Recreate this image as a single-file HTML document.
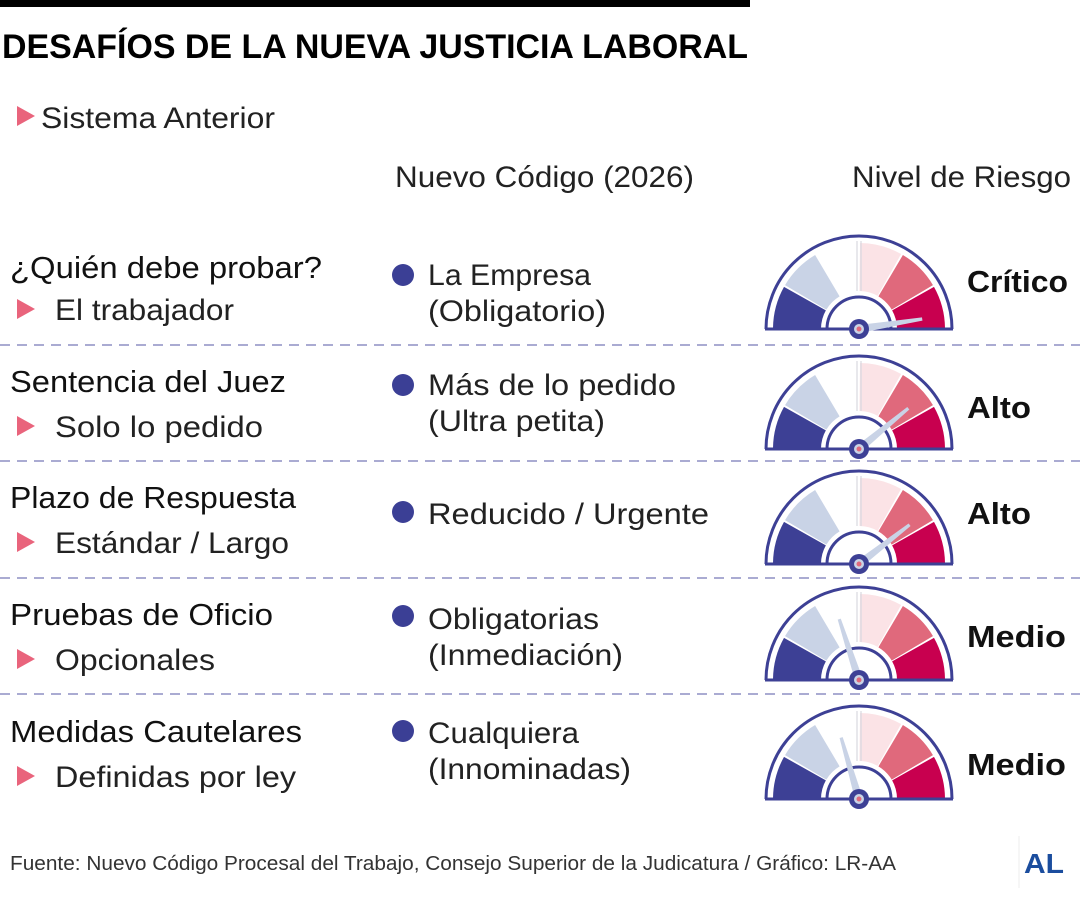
<!DOCTYPE html>
<html><head><meta charset="utf-8"><style>
html,body{margin:0;padding:0;background:#fff;width:1080px;height:900px;overflow:hidden}
svg{display:block;font-family:"Liberation Sans",sans-serif}
</style></head><body>
<svg id="chart" width="1080" height="900" viewBox="0 0 1080 900" xmlns="http://www.w3.org/2000/svg">
<rect x="0" y="0" width="750" height="7" fill="#000"/>
<text x="2" y="58" font-size="34" font-weight="bold" fill="#000" textLength="746" lengthAdjust="spacingAndGlyphs">DESAFÍOS DE LA NUEVA JUSTICIA LABORAL</text>
<polygon points="17,106 35,116 17,126" fill="#e9647c"/>
<text x="41" y="128" font-size="30" fill="#222" textLength="234" lengthAdjust="spacingAndGlyphs">Sistema Anterior</text>
<text x="395" y="187" font-size="30" fill="#222" textLength="299" lengthAdjust="spacingAndGlyphs">Nuevo Código (2026)</text>
<text x="852" y="187" font-size="30" fill="#222" textLength="219" lengthAdjust="spacingAndGlyphs">Nivel de Riesgo</text>
<g id="rows"></g>
<text x="10" y="870" font-size="20" fill="#333" textLength="886" lengthAdjust="spacingAndGlyphs">Fuente: Nuevo Código Procesal del Trabajo, Consejo Superior de la Judicatura / Gráfico: LR-AA</text>
<line x1="1019" y1="836" x2="1019" y2="888" stroke="#eee" stroke-width="1"/>
<text x="1024" y="873" font-size="28" font-weight="bold" fill="#1b4d9e" textLength="40" lengthAdjust="spacingAndGlyphs">AL</text>
</svg>
<script>
const questions = ["¿Quién debe probar?","Sentencia del Juez","Plazo de Respuesta","Pruebas de Oficio","Medidas Cautelares"];
const previous = ["El trabajador","Solo lo pedido","Estándar / Largo","Opcionales","Definidas por ley"];
const newLine1 = ["La Empresa","Más de lo pedido","Reducido / Urgente","Obligatorias","Cualquiera"];
const newLine2 = ["(Obligatorio)","(Ultra petita)","","(Inmediación)","(Innominadas)"];
const riskLabels = ["Crítico","Alto","Alto","Medio","Medio"];
const riskValues = [95, 78, 79, 40, 41];

const NS = "http://www.w3.org/2000/svg";
const g = document.getElementById('rows');
const qY = [278, 392, 508, 625, 742];
const pY = [320, 437, 553, 670, 787];
const dotYs = [275, 385, 512, 616, 731];
const n1Y = [285, 395, 524, 629, 743];
const n2Y = [321, 431, 0, 665, 779];
const rY = [292, 418, 524, 647, 775];
const sepY = [345, 461, 578, 694];
const gaugeCY = [329, 449, 564, 680, 799];
const qW = [312, 276, 286, 263, 292], pW = [179, 208, 234, 160, 241];
const n1W = [163, 248, 281, 171, 151], n2W = [178, 177, 0, 195, 203];
const rW = [101, 64, 64, 99, 99];
const GX = 859;
const colors = ["#3d4095","#c9d3e6",null,"#fbe3e6","#e0697c","#c8004f"];
function mk(tag, attrs, parent){const e=document.createElementNS(NS,tag);for(const k in attrs)e.setAttribute(k,attrs[k]);(parent||g).appendChild(e);return e;}
function angle(v){return Math.PI*(1 - v/100);}
function pt(cx,cy,r,a){return [cx + r*Math.cos(a), cy - r*Math.sin(a)];}
function sector(cx,cy,r0,r1,a0,a1){
  const p1=pt(cx,cy,r1,a0),p2=pt(cx,cy,r1,a1),p3=pt(cx,cy,r0,a1),p4=pt(cx,cy,r0,a0);
  return `M${p1[0]},${p1[1]} A${r1},${r1} 0 0 1 ${p2[0]},${p2[1]} L${p3[0]},${p3[1]} A${r0},${r0} 0 0 0 ${p4[0]},${p4[1]} Z`;
}
questions.forEach((q,i)=>{
  const t1=mk('text',{x:10,y:qY[i],'font-size':31,fill:'#111',textLength:qW[i],lengthAdjust:'spacingAndGlyphs'});t1.textContent=q;
  
  
  const ty=pY[i]-11;
  const tri=mk('polygon',{points:`17,${ty-10} 35,${ty} 17,${ty+10}`,fill:'#e9647c'});
  
  
  const t2=mk('text',{x:55,y:pY[i],'font-size':30,fill:'#222',textLength:pW[i],lengthAdjust:'spacingAndGlyphs'});t2.textContent=previous[i];
  
  
  const hasTwo = newLine2[i] !== "";
  const dot=mk('circle',{cx:403,cy:dotYs[i],r:11,fill:'#3b3f95'});
  
  
  const n1=mk('text',{x:428,y:n1Y[i],'font-size':30,fill:'#222',textLength:n1W[i],lengthAdjust:'spacingAndGlyphs'});n1.textContent=newLine1[i];
  
  
  if(hasTwo){
    const n2=mk('text',{x:428,y:n2Y[i],'font-size':30,fill:'#222',textLength:n2W[i],lengthAdjust:'spacingAndGlyphs'});n2.textContent=newLine2[i];
    
    
  }
  const cy=gaugeCY[i];
  const gg=mk('g',{});
  
  
  for(let s=0;s<6;s++){
    if(!colors[s])continue;
    const a0=Math.PI*(1-s/6)-0.012, a1=Math.PI*(1-(s+1)/6)+0.012;
    const seg=mk('path',{d:sector(GX,cy,38,86,a0,a1),fill:colors[s]},gg);
    
    
  }
  const mid=mk('path',{d:`M${GX-2},${cy-38} V${cy-88} M${GX+2},${cy-38} V${cy-88}`,stroke:'#d8d8e0','stroke-width':1.2,fill:'none'},gg);
  
  
  const outer=mk('path',{d:`M${GX-93},${cy} A93,93 0 0 1 ${GX+93},${cy}`,fill:'none',stroke:'#3d4095','stroke-width':3},gg);
  
  
  const inner=mk('path',{d:`M${GX-32},${cy} A32,32 0 0 1 ${GX+32},${cy}`,fill:'#fff',stroke:'#3d4095','stroke-width':3},gg);
  
  
  const base=mk('line',{x1:GX-94,y1:cy,x2:GX+94,y2:cy,stroke:'#3d4095','stroke-width':3},gg);
  
  
  const a=angle(riskValues[i]);
  const tip=pt(GX,cy,64,a);
  const px=Math.sin(a)*4, py=Math.cos(a)*4;
  const nd=mk('polygon',{points:`${GX+px},${cy+py} ${tip[0]+px*0.4},${tip[1]+py*0.4} ${tip[0]-px*0.4},${tip[1]-py*0.4} ${GX-px},${cy-py}`,fill:'#c9d3e6'},gg);
  
  
  const hub=mk('circle',{cx:GX,cy:cy,r:10,fill:'#3d4095'},gg);
  
  
  const hub2=mk('circle',{cx:GX,cy:cy,r:5,fill:'#c9d3e6'},gg);
  
  
  const hub3=mk('circle',{cx:GX,cy:cy,r:2.5,fill:'#e0697c'},gg);
  
  
  const rl=mk('text',{x:967,y:rY[i],'font-size':31,'font-weight':'bold',fill:'#111',textLength:rW[i],lengthAdjust:'spacingAndGlyphs'});rl.textContent=riskLabels[i];
  
  
  if(i<4){
    const sep=mk('line',{x1:0,y1:sepY[i],x2:1080,y2:sepY[i],stroke:'#8d8fc4','stroke-width':1.5,'stroke-dasharray':'10 7'});
    
    
  }
});
</script>
</body></html>
